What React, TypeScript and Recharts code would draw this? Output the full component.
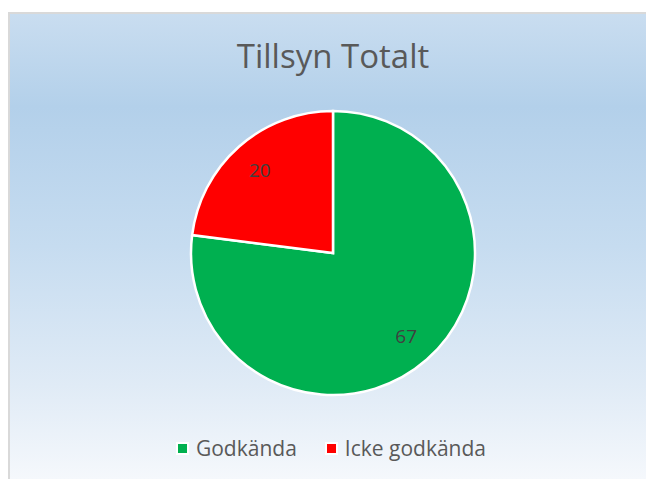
import { PieChart, Pie, Cell, Legend } from "recharts"

const categories = ["Godkända", "Icke godkända"]
const values = [67, 20]
const colors = ["#00b050", "#ff0000"]

const data = categories.map((name, i) => ({ name, value: values[i] }))

const RADIAN = Math.PI / 180

function renderLabel(props: any) {
  const { cx, cy, midAngle, outerRadius, value } = props
  const r = outerRadius * 0.78
  const x = cx + r * Math.cos(-midAngle * RADIAN)
  const y = cy + r * Math.sin(-midAngle * RADIAN)
  return (
    <text x={x} y={y} fill="#404040" fontSize={19} textAnchor="middle" dominantBaseline="central">
      {value}
    </text>
  )
}

function LegendContent() {
  return (
    <div style={{ display: "flex", justifyContent: "center", gap: 28, fontSize: 21, color: "#595959" }}>
      {categories.map((c, i) => (
        <span key={c} style={{ display: "flex", alignItems: "center" }}>
          <span
            style={{
              width: 9,
              height: 9,
              background: colors[i],
              border: "2px solid #fff",
              marginRight: 7,
              display: "inline-block",
            }}
          />
          {c}
        </span>
      ))}
    </div>
  )
}

export default function App() {
  return (
    <>
      <style>{`body{margin:0;overflow:hidden}`}</style>
      <div
        style={{
          position: "absolute",
          left: 8,
          top: 12,
          width: 638,
          height: 467,
          borderLeft: "2px solid #d9d9d9",
          borderTop: "2px solid #d9d9d9",
          boxSizing: "border-box",
          background: "linear-gradient(to bottom, #c9ddf0 0%, #b3d0ea 20%, #c6dcf0 50%, #e0ebf6 80%, #f5f8fc 100%)",
          fontFamily: "'Open Sans', sans-serif",
        }}
      >
        <div
          style={{
            position: "absolute",
            top: 19,
            left: 0,
            width: 646,
            textAlign: "center",
            fontSize: 33,
            color: "#595959",
          }}
        >
          Tillsyn Totalt
        </div>
        <PieChart width={636} height={465} style={{ position: "absolute", top: 0, left: 0 }}>
          <Pie
            data={data}
            dataKey="value"
            nameKey="name"
            cx={318}
            cy={234}
            outerRadius={142}
            startAngle={90}
            endAngle={-270}
            stroke="#ffffff"
            strokeWidth={2.5}
            label={renderLabel}
            labelLine={false}
            isAnimationActive={false}
          >
            {data.map((d, i) => (
              <Cell key={d.name} fill={colors[i]} />
            ))}
          </Pie>
          <Legend
            verticalAlign="bottom"
            content={<LegendContent />}
            wrapperStyle={{ bottom: 17, left: 8 }}
          />
        </PieChart>
      </div>
    </>
  )
}
